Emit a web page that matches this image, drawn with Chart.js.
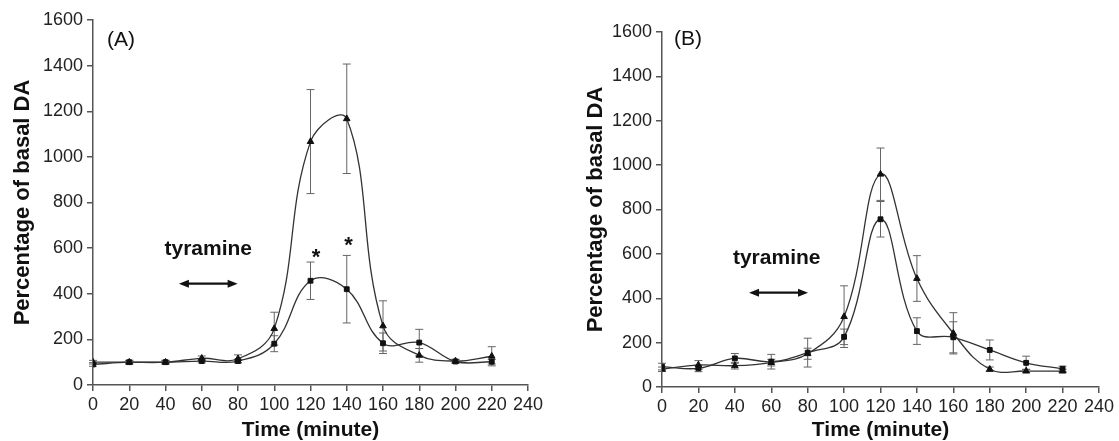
<!DOCTYPE html>
<html>
<head>
<meta charset="utf-8">
<script src="https://cdn.jsdelivr.net/npm/chart.js@4.4.1/dist/chart.umd.min.js"></script>
<style>
  html, body { margin: 0; padding: 0; background: #fff; }
  #wrap { position: relative; width: 1119px; height: 441px; }
  canvas { position: absolute; top: 0; }
</style>
</head>
<body>
<div id="wrap">
  <canvas id="chartA" width="560" height="441" style="left:0"></canvas>
  <canvas id="chartB" width="559" height="441" style="left:560px"></canvas>
</div>
<script>
// sampling times (minutes)
const times = [0, 20, 40, 60, 80, 100, 120, 140, 160, 180, 200, 220];

// panel A
const triA    = [100, 100, 100, 117, 115, 247, 1067, 1167, 259, 130, 105, 126];
const triAErr = [8, 8, 8, 10, 17, 72, 228, 240, 110, 30, 8, 42];
const sqA     = [90, 100, 100, 105, 105, 181, 457, 420, 183, 186, 103, 102];
const sqAErr  = [8, 8, 8, 8, 8, 35, 82, 148, 45, 58, 8, 10];

// panel B
const triB    = [80, 99, 96, 110, 150, 317, 959, 489, 242, 80, 72, 72];
const triBErr = [10, 20, 15, 15, 25, 139, 118, 103, 93, 10, 8, 8];
const sqB     = [92, 84, 129, 114, 155, 226, 756, 252, 224, 167, 109, 82];
const sqBErr  = [15, 15, 22, 33, 65, 35, 80, 60, 70, 45, 30, 12];

const FONT = '"Liberation Sans", Arial, Helvetica, sans-serif';

// vertical error bars with caps
const errorBars = {
  id: 'errorBars',
  beforeDatasetsDraw(chart) {
    const { ctx, scales: { x, y } } = chart;
    ctx.save();
    ctx.strokeStyle = '#666';
    ctx.lineWidth = 1;
    chart.data.datasets.forEach(ds => {
      ds.data.forEach((p, i) => {
        const e = ds.errors[i];
        const px = x.getPixelForValue(p.x);
        const top = y.getPixelForValue(p.y + e);
        const bot = y.getPixelForValue(p.y - e);
        ctx.beginPath();
        ctx.moveTo(px, top); ctx.lineTo(px, bot);
        ctx.moveTo(px - 4, top); ctx.lineTo(px + 4, top);
        ctx.moveTo(px - 4, bot); ctx.lineTo(px + 4, bot);
        ctx.stroke();
      });
    });
    ctx.restore();
  }
};

// panel letter, tyramine label + arrow, significance stars
const extras = {
  id: 'extras',
  afterDraw(chart, args, o) {
    const { ctx, scales: { x, y } } = chart;
    ctx.save();
    ctx.fillStyle = '#111';
    ctx.strokeStyle = '#111';
    ctx.textAlign = 'center';
    ctx.textBaseline = 'middle';
    ctx.font = '21px ' + FONT;
    ctx.fillText(o.panel, x.getPixelForValue(o.panelAt[0]), y.getPixelForValue(o.panelAt[1]));
    ctx.font = 'bold 21px ' + FONT;
    ctx.fillText('tyramine', x.getPixelForValue(o.textAt[0]), y.getPixelForValue(o.textAt[1]));

    const x1 = x.getPixelForValue(o.arrow[0]);
    const x2 = x.getPixelForValue(o.arrow[1]);
    const ay = y.getPixelForValue(o.arrow[2]);
    ctx.lineWidth = 2.2;
    ctx.beginPath();
    ctx.moveTo(x1 + 6, ay); ctx.lineTo(x2 - 6, ay);
    ctx.stroke();
    ctx.beginPath();
    ctx.moveTo(x1, ay); ctx.lineTo(x1 + 10, ay - 4); ctx.lineTo(x1 + 10, ay + 4); ctx.closePath();
    ctx.moveTo(x2, ay); ctx.lineTo(x2 - 10, ay - 4); ctx.lineTo(x2 - 10, ay + 4); ctx.closePath();
    ctx.fill();

    ctx.font = 'bold 22px ' + FONT;
    (o.stars || []).forEach(s => {
      ctx.fillText('*', x.getPixelForValue(s[0]), y.getPixelForValue(s[1]) + 6);
    });
    ctx.restore();
  }
};

function makeChart(id, tri, triErr, sq, sqErr, notes, lay) {
  const pts = vals => times.map((t, i) => ({ x: t, y: vals[i] }));
  const line = {
    borderColor: '#333', borderWidth: 1.3, tension: 0.4,
    pointBackgroundColor: '#111', pointBorderColor: '#111', pointBorderWidth: 1
  };
  const tickFont = { family: FONT, size: 18 };
  return new Chart(document.getElementById(id), {
    type: 'line',
    data: {
      datasets: [
        Object.assign({ data: pts(tri), errors: triErr, pointStyle: 'triangle', pointRadius: 3.8 }, line),
        Object.assign({ data: pts(sq), errors: sqErr, pointStyle: 'rect', pointRadius: 3.4 }, line)
      ]
    },
    options: {
      responsive: false,
      animation: false,
      layout: { padding: lay.padding },
      plugins: { legend: { display: false }, tooltip: { enabled: false }, extras: notes },
      scales: {
        x: {
          type: 'linear', min: 0, max: 240,
          ticks: { stepSize: 20, autoSkip: false, maxRotation: 0, padding: 3, color: '#222', font: tickFont,
                   callback: v => String(v) },
          grid: { drawOnChartArea: false, tickLength: 6, color: '#555', lineWidth: 1.5 },
          border: { color: '#555', width: 1.5 },
          title: { display: true, text: 'Time (minute)', color: '#111', padding: { top: 0, bottom: 0 },
                   font: { family: FONT, size: 21, weight: 'bold', lineHeight: 1 } },
          afterFit: s => { s.height = lay.xh; }
        },
        y: {
          min: 0, max: 1600,
          ticks: { stepSize: 200, padding: 4, color: '#222', font: tickFont, callback: v => String(v) },
          grid: { drawOnChartArea: false, tickLength: 6, color: '#555', lineWidth: 1.5 },
          border: { color: '#555', width: 1.5 },
          title: { display: true, text: 'Percentage of basal DA', color: '#111', padding: { top: lay.titlePad, bottom: 0 },
                   font: { family: FONT, size: 22, weight: 'bold', lineHeight: 1 } },
          afterFit: s => { s.width = lay.yw; }
        }
      }
    },
    plugins: [errorBars, extras]
  });
}

makeChart('chartA', triA, triAErr, sqA, sqAErr,
  { panel: '(A)', panelAt: [15.4, 1513], textAt: [63.6, 596], arrow: [47.4, 79.8, 444], stars: [[123, 585], [141, 636]] },
  { padding: { top: 20, right: 32, left: 0, bottom: 0 }, xh: 56, yw: 93, titlePad: 12 });

makeChart('chartB', triB, triBErr, sqB, sqBErr,
  { panel: '(B)', panelAt: [14.3, 1566], textAt: [63, 581], arrow: [47.8, 80.2, 425], stars: [] },
  { padding: { top: 32, right: 20, left: 0, bottom: 0 }, xh: 54, yw: 102, titlePad: 25 });
</script>
</body>
</html>
